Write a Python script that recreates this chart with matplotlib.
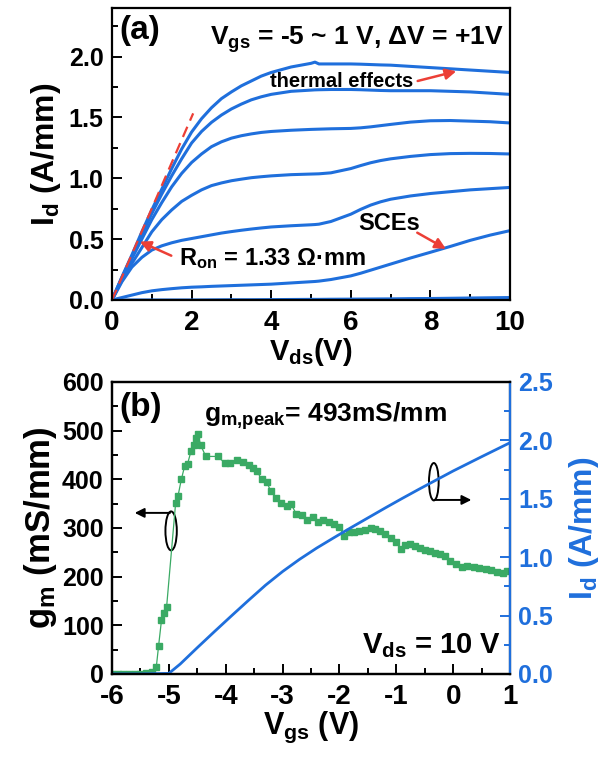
import matplotlib
matplotlib.use("Agg")
import matplotlib.pyplot as plt
from matplotlib.patches import Ellipse
from matplotlib.ticker import MultipleLocator

plt.rcParams['font.family'] = ['Liberation Sans', 'DejaVu Sans']
plt.rcParams['font.weight'] = 'bold'
plt.rcParams['axes.labelweight'] = 'bold'
plt.rcParams['mathtext.default'] = 'regular'
plt.rcParams['axes.unicode_minus'] = False

BLUE = '#1f6fdc'
GREEN = '#3aaa64'
RED = '#ec3f36'

# ---- panel (a): output curves, Vgs = -5 ... 1 V
vds = [0, 0.25, 0.5, 0.75, 1.0, 1.25, 1.5, 1.75, 2.0, 2.25, 2.5, 2.75, 3.0, 3.25, 3.5, 3.75,
       4.0, 4.5, 5.0, 5.1, 5.2, 5.5, 6.0, 6.25, 6.5, 6.75, 7.0, 7.5, 8.0, 8.5, 9.0, 9.5, 10.0]
id_vgs_p1 = [0, .19, .37, .56, .74, .91, 1.08, 1.24, 1.38, 1.49, 1.58, 1.655, 1.71, 1.76, 1.80, 1.84,
             1.87, 1.915, 1.945, 1.955, 1.94, 1.94, 1.94, 1.938, 1.935, 1.932, 1.93, 1.92, 1.91, 1.90, 1.89, 1.88, 1.87]
id_vgs_0 = [0, .185, .36, .54, .71, .87, 1.02, 1.16, 1.29, 1.385, 1.46, 1.52, 1.57, 1.61, 1.645, 1.67,
            1.69, 1.715, 1.725, 1.727, 1.728, 1.73, 1.73, 1.728, 1.725, 1.722, 1.72, 1.72, 1.72, 1.715, 1.71, 1.70, 1.69]
id_vgs_m1 = [0, .18, .34, .50, .66, .80, .93, 1.04, 1.13, 1.20, 1.26, 1.30, 1.33, 1.35, 1.365, 1.377,
             1.385, 1.395, 1.402, 1.403, 1.404, 1.407, 1.41, 1.415, 1.423, 1.433, 1.443, 1.462, 1.473, 1.475, 1.47, 1.465, 1.455]
id_vgs_m2 = [0, .16, .30, .43, .56, .66, .74, .81, .86, .905, .94, .962, .98, .993, 1.005, 1.013,
             1.02, 1.03, 1.035, 1.036, 1.037, 1.045, 1.08, 1.105, 1.128, 1.146, 1.16, 1.18, 1.195, 1.203, 1.205, 1.204, 1.2]
id_vgs_m3 = [0, .15, .27, .35, .41, .445, .47, .49, .505, .52, .535, .55, .562, .573, .583, .592,
             .60, .61, .618, .62, .623, .645, .705, .745, .78, .807, .828, .855, .875, .89, .905, .915, .925]
id_vgs_m4 = [0, .02, .04, .06, .075, .085, .093, .10, .105, .108, .112, .115, .118, .121, .124, .127,
             .13, .14, .15, .152, .155, .168, .198, .22, .245, .27, .295, .345, .392, .44, .49, .533, .57]
id_vgs_m5 = [0, 0, 0, 0, 0, 0, 0, 0, 0, .0005, .001, .0015, .002, .002, .002, .0025,
             .003, .004, .005, .005, .005, .006, .007, .0075, .008, .0085, .009, .011, .012, .014, .016, .018, .02]
output_curves = [id_vgs_m5, id_vgs_m4, id_vgs_m3, id_vgs_m2, id_vgs_m1, id_vgs_0, id_vgs_p1]

ron = 1.33
ron_vds = [0, 2.04]

# ---- panel (b): transfer at Vds = 10 V
vgs_gm = [-6.0, -5.9, -5.8, -5.7, -5.6, -5.5, -5.4, -5.3, -5.22, -5.18, -5.13, -5.09, -5.04,
          -4.88, -4.84, -4.78, -4.72, -4.67, -4.61, -4.56, -4.52, -4.49, -4.44, -4.35,
          -4.14, -4.02, -3.92, -3.80, -3.70, -3.59, -3.52, -3.45, -3.37, -3.28, -3.21,
          -3.12, -3.02, -2.93, -2.85, -2.76, -2.66, -2.57, -2.46, -2.37, -2.29, -2.19,
          -2.09, -2.00, -1.92, -1.83, -1.74, -1.65, -1.55, -1.45, -1.37, -1.28, -1.19,
          -1.10, -1.01, -0.92, -0.84, -0.76, -0.67, -0.58, -0.50, -0.41, -0.32, -0.23,
          -0.14, -0.06, 0.05, 0.15, 0.25, 0.36, 0.46, 0.57, 0.67, 0.77, 0.87, 0.95]
gm = [0, 0, 0, 0, 0, 0, 1, 5, 15, 58, 110, 125, 137,
      352, 365, 400, 428, 432, 458, 470, 485, 493, 470, 447,
      447, 434, 434, 440, 436, 430, 424, 417, 400, 395, 376,
      362, 352, 346, 349, 329, 326, 316, 322, 313, 316, 312,
      308, 302, 284, 291, 292, 293, 296, 300, 297, 294, 288,
      280, 271, 257, 266, 268, 262, 258, 254, 252, 249, 246,
      242, 233, 225, 220, 221, 220, 218, 216, 213, 210, 207, 212]

vgs_id = [-6.0, -5.5, -5.0, -4.8, -4.5, -4.2, -3.9, -3.6, -3.3, -3.0, -2.7, -2.4, -2.1,
          -1.8, -1.5, -1.2, -0.9, -0.6, -0.3, 0.0, 0.5, 1.0]
id_transfer = [0, 0, 0.005, 0.085, 0.225, 0.362, 0.497, 0.63, 0.76, 0.877, 0.982, 1.078, 1.166,
               1.252, 1.336, 1.42, 1.502, 1.582, 1.66, 1.738, 1.86, 1.98]

fig = plt.figure(figsize=(6.04, 7.6), dpi=100)
ax_a = fig.add_axes([0.1854, 0.6053, 0.659, 0.3842])
ax_b = fig.add_axes([0.1854, 0.1132, 0.659, 0.3842])


def style_axis(ax):
    for s in ax.spines.values():
        s.set_linewidth(1.6)
    ax.tick_params(which='both', direction='in', width=1.4, pad=6)
    ax.tick_params(axis='x', labelsize=20, pad=7)
    ax.tick_params(axis='y', labelsize=18)
    ax.tick_params(which='major', length=7)
    ax.tick_params(which='minor', length=4.5)


# panel (a)
for ids in output_curves:
    ax_a.plot(vds, ids, color=BLUE, lw=2.2)
ax_a.plot(ron_vds, [v / ron for v in ron_vds], color=RED, lw=1.6, ls=(0, (5, 3)))
ax_a.set_xlim(0, 10)
ax_a.set_ylim(0, 2.4)
ax_a.xaxis.set_major_locator(MultipleLocator(2))
ax_a.xaxis.set_minor_locator(MultipleLocator(1))
ax_a.yaxis.set_minor_locator(MultipleLocator(0.25))
ax_a.set_yticks([0, 0.5, 1.0, 1.5, 2.0])
ax_a.set_yticklabels(['0.0', '0.5', '1.0', '1.5', '2.0'])
style_axis(ax_a)
ax_a.set_xlabel('V$_{ds}$(V)', fontsize=21, labelpad=0)
ax_a.set_ylabel('I$_{d}$ (A/mm)', fontsize=23, labelpad=4)

ax_a.text(0.018, 0.975, '(a)', transform=ax_a.transAxes, fontsize=24, va='top')
ax_a.text(0.985, 0.873, 'V$_{gs}$ = -5 ~ 1 V, ΔV = +1V', transform=ax_a.transAxes,
          fontsize=19, ha='right', va='baseline')
arrow = dict(arrowstyle='-|>', color=RED, lw=1.8, mutation_scale=16, shrinkA=0, shrinkB=0)
ax_a.text(3.98, 1.75, 'thermal effects', fontsize=14.5, va='baseline')
ax_a.annotate('', xy=(8.65, 1.88), xytext=(7.68, 1.80), arrowprops=arrow)
ax_a.text(6.2, 0.575, 'SCEs', fontsize=17, va='baseline')
ax_a.annotate('', xy=(8.39, 0.42), xytext=(7.67, 0.553), arrowprops=arrow)
ax_a.text(1.68, 0.288, 'R$_{on}$ = 1.33 Ω·mm', fontsize=17, va='baseline')
ax_a.annotate('', xy=(0.70, 0.48), xytext=(1.49, 0.364), arrowprops=arrow)

# panel (b)
ax_b.plot(vgs_gm, gm, color=GREEN, lw=0.9, marker='s', ms=4.6, mec=GREEN, mfc=GREEN)
ax_b.set_xlim(-6, 1)
ax_b.set_ylim(0, 600)
ax_b.xaxis.set_major_locator(MultipleLocator(1))
ax_b.xaxis.set_minor_locator(MultipleLocator(0.5))
ax_b.yaxis.set_major_locator(MultipleLocator(100))
ax_b.yaxis.set_minor_locator(MultipleLocator(50))
style_axis(ax_b)
ax_b.set_xlabel('V$_{gs}$ (V)', fontsize=22, labelpad=0)
ax_b.set_ylabel('g$_{m}$ (mS/mm)', fontsize=25, labelpad=2)

ax_r = ax_b.twinx()
ax_r.plot(vgs_id, id_transfer, color=BLUE, lw=2.0)
ax_r.set_ylim(0, 2.5)
ax_r.yaxis.set_major_locator(MultipleLocator(0.5))
ax_r.yaxis.set_minor_locator(MultipleLocator(0.25))
style_axis(ax_r)
ax_r.tick_params(axis='y', which='both', colors=BLUE)
ax_r.spines['right'].set_color(BLUE)
ax_r.set_ylabel('I$_{d}$ (A/mm)', fontsize=23, color=BLUE, labelpad=10)

ax_b.text(0.018, 0.965, '(b)', transform=ax_b.transAxes, fontsize=24, va='top')
ax_b.text(-4.38, 518, 'g$_{m{,}peak}$= 493mS/mm', fontsize=19, va='baseline')
ax_b.text(0.84, 43, 'V$_{ds}$ = 10 V', fontsize=21, ha='right', va='baseline')

black_arrow = dict(arrowstyle='-|>', color='black', lw=1.4, mutation_scale=14,
                   shrinkA=0, shrinkB=0)
ax_b.add_patch(Ellipse((-4.96, 294), 0.2, 80, fill=False, ec='black', lw=1.4))
ax_b.annotate('', xy=(-5.6, 331), xytext=(-4.98, 331), arrowprops=black_arrow)
ax_r.add_patch(Ellipse((-0.34, 1.646), 0.17, 0.32, fill=False, ec='black', lw=1.4))
ax_r.annotate('', xy=(0.32, 1.49), xytext=(-0.32, 1.49), arrowprops=black_arrow)

fig.savefig('out.png', dpi=100)
